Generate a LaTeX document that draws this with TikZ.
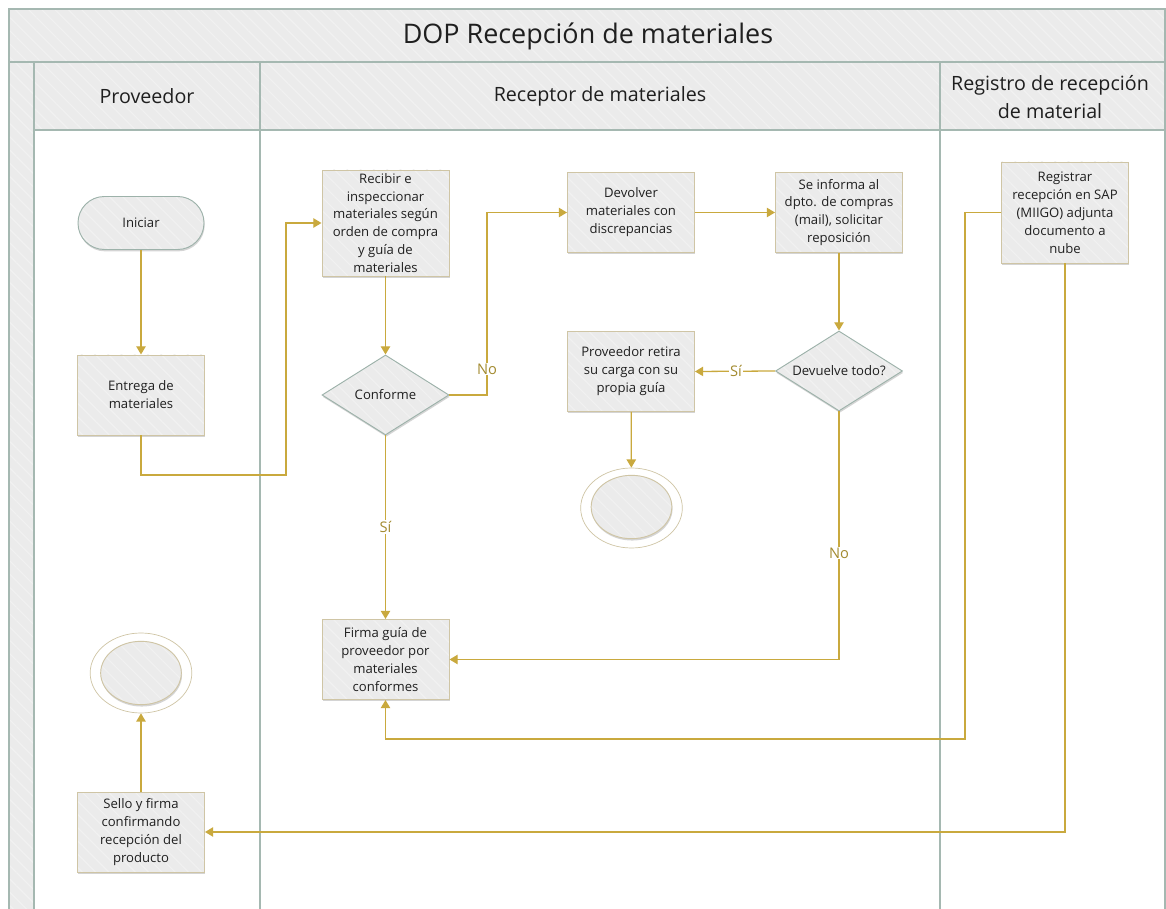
\documentclass[tikz,border=0pt]{standalone}
\usepackage{fontspec}
\setmainfont{Open Sans}
\usetikzlibrary{shapes.geometric,arrows.meta,shadows,patterns.meta}
\definecolor{gold}{HTML}{C9A93E}
\definecolor{goldtxt}{HTML}{A38B30}
\definecolor{lanec}{HTML}{A5B8B1}
\definecolor{boxd}{HTML}{CFC5A5}
\definecolor{diad}{HTML}{9DB2AA}
\definecolor{gfill}{HTML}{EBEBEB}
\definecolor{gstripe}{HTML}{F1F1F1}
\tikzset{
  hatch/.style={preaction={fill=gfill}, pattern={Lines[angle=-45,distance=8pt,line width=1pt]}, pattern color=gstripe},
  shad/.style={drop shadow={shadow xshift=0.6pt,shadow yshift=-1.6pt,opacity=0.28,fill=black!60}},
  bodyf/.style={font=\fontsize{11.2}{15.3}\selectfont},
  box/.style={shad, hatch, draw=boxd, line width=0.8pt, align=center, bodyf, text=black!88,
    minimum width=3.81cm, minimum height=2.4cm, inner sep=1pt},
  startbox/.style={shad, hatch, draw=diad, line width=0.8pt, rounded corners=0.79cm, bodyf, text=black!88,
    minimum width=3.78cm, minimum height=1.59cm},
  dia/.style={shape=diamond, shad, hatch, draw=diad, line width=0.8pt, inner sep=0pt,
    minimum width=3.81cm, minimum height=2.4cm, label={[bodyf, text=black!88]center:#1}},
  endouter/.style={shape=ellipse, draw=boxd, line width=0.6pt, fill=white, inner sep=0pt,
    minimum width=3.05cm, minimum height=2.4cm},
  endinner/.style={shape=ellipse, shad, hatch, draw=boxd, line width=0.8pt, inner sep=0pt,
    minimum width=2.42cm, minimum height=1.9cm},
  conn/.style={draw=gold, line width=1.1pt, -{Triangle[width=8pt,length=7pt]}},
  elabel/.style={fill=white, text=goldtxt, inner sep=1pt, font=\fontsize{12.5}{14}\selectfont},
  lane/.style={draw=lanec, line width=1.2pt},
  hdr/.style={align=center, font=\fontsize{16.8}{23.5}\selectfont, text=black!88},
}
\begin{document}
\begin{tikzpicture}[x=0.03cm,y=-0.03cm]
\useasboundingbox (0,0) rectangle (1166,909);
% frame
\path[hatch] (9,9) rectangle (1165,62);
\path[hatch] (9,62) rectangle (34,909);
\path[hatch] (34,62) rectangle (1165,130);
\draw[lane] (9,912) -- (9,9) -- (1165,9) -- (1165,912);
\draw[lane] (9,62) -- (1165,62);
\draw[lane] (34,62) -- (34,912);
\draw[lane] (34,130) -- (1165,130);
\draw[lane] (260,62) -- (260,912);
\draw[lane] (940,62) -- (940,912);
\node[hdr, font=\fontsize{23}{27}\selectfont] (title) at (588,36) {DOP Recepción de materiales};
\node[hdr] (h1) at (147,96) {Proveedor};
\node[hdr] (h2) at (600,96) {Receptor de materiales};
\node[hdr] (h3) at (1050,97) {Registro de recepción\\de material};
% nodes
\node[startbox] (iniciar) at (141,223) {Iniciar};
\node[box] (entrega) at (141,395) {Entrega de\\materiales};
\node[box, minimum height=3.18cm] (recibir) at (385.5,223) {Recibir e\\inspeccionar\\materiales según\\orden de compra\\y guía de\\materiales};
\node[dia=Conforme] (conforme) at (385.5,395) {};
\node[box] (devolver) at (631,212.5) {Devolver\\materiales con\\discrepancias};
\node[box] (seinforma) at (839,212.5) {Se informa al\\dpto. de compras\\(mail), solicitar\\reposición};
\node[dia=Devuelve todo?] (devuelve) at (839,371) {};
\node[box] (retira) at (631,371.5) {Proveedor retira\\su carga con su\\propia guía};
\node[endouter] (fin1) at (631.5,508) {};
\node[endinner] (fin1i) at (631.5,507) {};
\node[box] (firma) at (385.5,659.5) {Firma guía de\\proveedor por\\materiales\\conformes};
\node[box, minimum height=3.03cm] (registrar) at (1065,212.5) {Registrar\\recepción en SAP\\(MIIGO) adjunta\\documento a\\nube};
\node[box] (sello) at (141,832) {Sello y firma\\confirmando\\recepción del\\producto};
\node[endouter] (fin2) at (141,673) {};
\node[endinner] (fin2i) at (141,673) {};
% bend points
\coordinate (b1) at (286,475);
\coordinate (b2) at (487,395);
\coordinate (b3) at (965,739);
% connectors
\draw[conn] (iniciar) -- (entrega);
\draw[conn] (entrega.south) |- (b1) |- (recibir.west);
\draw[conn] (recibir) -- (conforme);
\draw[conn] (conforme.east) -- (b2) |- (devolver.west);
\draw[conn] (devolver) -- (seinforma);
\draw[conn] (seinforma) -- (devuelve);
\draw[conn] (devuelve.west) -- (retira.east);
\draw[conn] (retira) -- (fin1);
\draw[conn] (devuelve.south) |- (firma.east);
\draw[conn] (conforme.south) -- (firma.north);
\draw[conn] (registrar.west) -| (b3) -| (firma.south);
\draw[conn] (registrar.south) |- (sello.east);
\draw[conn] (sello) -- (fin2);
% edge labels
\node[elabel] (lno1) at (487,369) {No};
\node[elabel] (lsi1) at (736,371) {Sí};
\node[elabel] (lno2) at (839,553) {No};
\node[elabel] (lsi2) at (385.5,527) {Sí};
\end{tikzpicture}
\end{document}
